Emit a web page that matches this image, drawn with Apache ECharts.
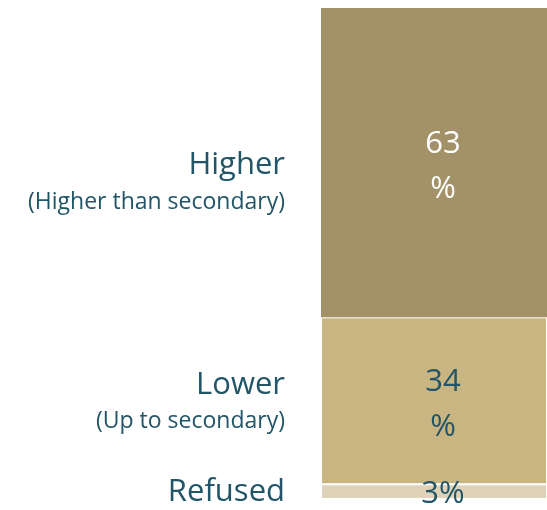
<!DOCTYPE html>
<html>
<head>
<meta charset="utf-8">
<script src="https://cdn.jsdelivr.net/npm/echarts@6/dist/echarts.min.js"></script>
<style>
  html, body { margin: 0; padding: 0; background: #fff; }
  #main { width: 547px; height: 510px; }
</style>
</head>
<body>
<div id="main"></div>
<script>
// data (bottom to top in the stack)
const groups = ['Refused', 'Lower', 'Higher'];
const notes = ['', 'Up to secondary', 'Higher than secondary'];
const shares = [3, 34, 63];
const colors = ['#ded3b9', '#c8b581', '#a39267'];
const valueColors = ['#215567', '#215567', '#ffffff'];

const teal = '#215567';
const font = 'Open Sans';

let series = [];
groups.forEach(function (g, i) {
  // the visible bar with the value inside
  series.push({
    name: g,
    type: 'bar',
    stack: 'total',
    barWidth: '100%',
    barGap: '-100%',
    data: [shares[i]],
    itemStyle: { color: colors[i], borderColor: '#fff', borderWidth: i == 2 ? 0 : 1 },
    label: {
      show: true,
      position: 'inside',
      formatter: shares[i] < 10 ? '{c}%' : '{c}\n%',
      color: valueColors[i],
      fontFamily: font,
      fontSize: 31,
      lineHeight: 45,
      offset: shares[i] < 10 ? [9, 3] : [9, 4]
    }
  });
  // invisible copy that carries the name on the left
  series.push({
    name: g + '_label',
    type: 'bar',
    stack: 'names',
    barWidth: '100%',
    barGap: '-100%',
    data: [shares[i]],
    itemStyle: { color: 'transparent' },
    silent: true,
    label: {
      show: true,
      position: 'left',
      distance: 36,
      align: 'right',
      offset: i == 2 ? [0, 20] : [0, 1],
      formatter: notes[i] ? '{t|' + g + '}\n{s|(' + notes[i] + ')}' : '{t|' + g + '}',
      rich: {
        t: { fontFamily: font, fontSize: 31, color: teal, lineHeight: 40, align: 'right' },
        s: { fontFamily: font, fontSize: 23, color: teal, lineHeight: 34, align: 'right' }
      }
    }
  });
});

const chart = echarts.init(document.getElementById('main'));
chart.setOption({
  animation: false,
  grid: { left: 321, right: 0, top: 8, bottom: 11 },
  xAxis: { type: 'category', data: ['Education'], show: false },
  yAxis: { type: 'value', min: 0, max: 100, show: false },
  series: series
});
</script>
</body>
</html>
